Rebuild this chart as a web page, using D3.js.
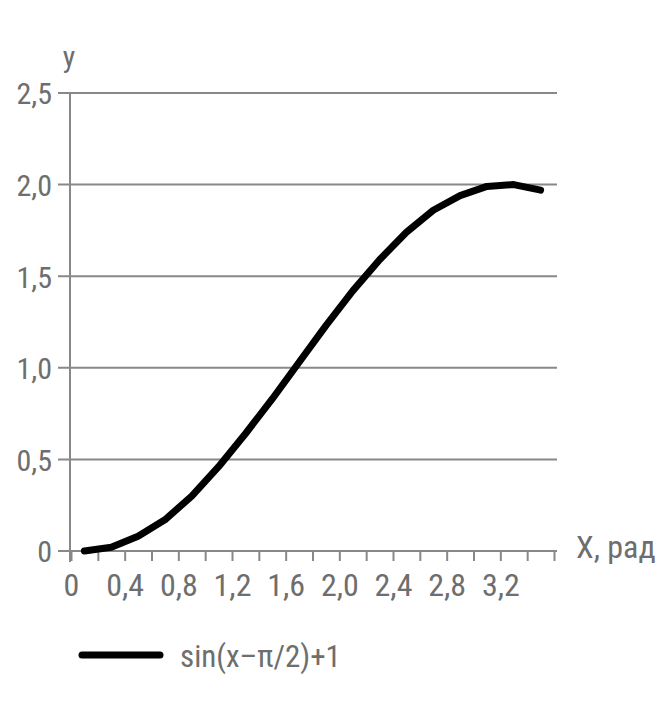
<!DOCTYPE html>
<html><head><meta charset="utf-8">
<script src="https://cdn.jsdelivr.net/npm/d3@7"></script>
<style>
body{margin:0;background:#fff;}
text{font-family:"Liberation Sans Narrow","Arial Narrow","Roboto",sans-serif;font-stretch:condensed;fill:#6e6e6e;}
</style></head>
<body>
<svg id="c" width="662" height="704"></svg>
<script>
// categories (x values, rad) — one per band
const categories = ["0","0,2","0,4","0,6","0,8","1,0","1,2","1,4","1,6","1,8","2,0","2,2","2,4","2,6","2,8","3,0","3,2","3,4"];
// series values: sin(x-π/2)+1
const seriesValues = [0.00,0.02,0.08,0.17,0.30,0.46,0.64,0.83,1.03,1.23,1.42,1.59,1.74,1.86,1.94,1.99,2.00,1.97];
const xTickLabels = ["0","0,4","0,8","1,2","1,6","2,0","2,4","2,8","3,2",""];
const yTicks = [0,0.5,1.0,1.5,2.0,2.5];
const seriesName = "sin(x\u2013\u03c0/2)+1";

const svg = d3.select("#c");
const gridCol = "#888", axisCol = "#888";
const pLeft = 71, pRight = 554, pTop = 93, pBottom = 551;

const xEdge = d3.scaleLinear().domain([0, categories.length]).range([pLeft, pRight]);
const y = d3.scaleLinear().domain([0, 2.5]).range([pBottom, pTop]);

// gridlines
svg.append("g").selectAll("line").data(yTicks).join("line")
  .attr("x1", 58).attr("x2", 557)
  .attr("y1", d => y(d)).attr("y2", d => y(d))
  .attr("stroke", gridCol).attr("stroke-width", 2);

// y axis
const yAxis = d3.axisLeft(y).tickValues(yTicks).tickSize(0).tickPadding(18)
  .tickFormat(d => d === 0 ? "0" : d3.format(".1f")(d).replace(".", ","));
const gy = svg.append("g").attr("transform", `translate(${pLeft - 1},0)`).call(yAxis);
gy.select(".domain").remove();
gy.selectAll("text").style("font-size", "30px").attr("fill", "#6e6e6e").attr("dy", "0.36em");
svg.append("line").attr("x1", pLeft - 1).attr("x2", pLeft - 1).attr("y1", pTop).attr("y2", pBottom + 11)
  .attr("stroke", axisCol).attr("stroke-width", 2);

// x axis
const xAxis = d3.axisBottom(xEdge).tickValues(d3.range(categories.length + 1))
  .tickSize(10).tickPadding(12)
  .tickFormat(i => i % 2 === 0 ? xTickLabels[i / 2] : "");
const gx = svg.append("g").attr("transform", `translate(0,${pBottom})`).call(xAxis);
gx.select(".domain").attr("stroke", axisCol).attr("stroke-width", 2).attr("d", `M${pLeft - 1},0H${pRight}`);
gx.selectAll(".tick line").attr("stroke", axisCol).attr("stroke-width", 2);
gx.selectAll("text").style("font-size", "32px").attr("fill", "#6e6e6e");

// axis titles
svg.append("text").attr("x", 69).attr("y", 67).attr("text-anchor", "middle").style("font-size", "30px").text("y");
svg.append("text").attr("x", 576).attr("y", 558).style("font-size", "32px").text("X, рад");

// curve
const line = d3.line().x((d, i) => xEdge(i + 0.5)).y(d => y(d));
svg.append("path").datum(seriesValues).attr("d", line)
  .attr("fill", "none").attr("stroke", "#000").attr("stroke-width", 7)
  .attr("stroke-linejoin", "round").attr("stroke-linecap", "round");

// legend
svg.append("line").attr("x1", 82).attr("x2", 160).attr("y1", 655).attr("y2", 655)
  .attr("stroke", "#000").attr("stroke-width", 7).attr("stroke-linecap", "round");
svg.append("text").attr("x", 180).attr("y", 667).style("font-size", "31px").text(seriesName);
</script>
</body></html>
